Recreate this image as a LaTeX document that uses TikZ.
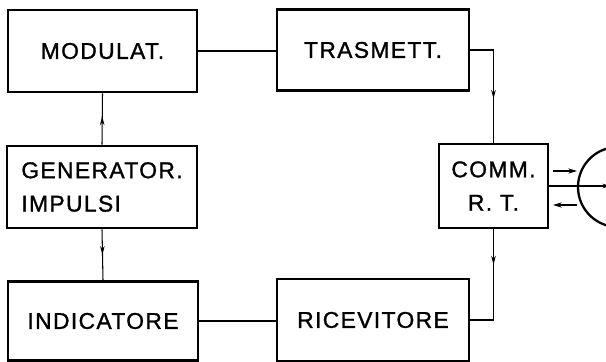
\documentclass[tikz,border=0pt]{standalone}
\usepackage{fontspec}
\setmainfont{Liberation Sans}[LetterSpace=6, FakeBold=1.2]
\usetikzlibrary{arrows.meta, decorations.markings}

\tikzset{
    blocco/.style={draw, line width=1.5pt, inner sep=0pt, font=\fontsize{13}{19}\selectfont, align=left},
    filo/.style={line width=0.6pt},
    freccia/.style={filo, decoration={markings, mark=at position #1 with {\arrow{Stealth[length=5pt, width=2.6pt]}}}, postaction={decorate}},
    piccola/.style={filo, -{Stealth[length=5pt, width=3pt]}}
}

\begin{document}
\begin{tikzpicture}[x=0.02cm, y=-0.02cm]

\clip (0,0) rectangle (606,362);
\useasboundingbox (0,0) rectangle (606,362);

% ---- Blocchi ----
\node[blocco, minimum width=3.78cm, minimum height=1.64cm] (mod) at (102.5,51) {MODULAT.};
\node[blocco, minimum width=3.84cm, minimum height=1.62cm] (tras) at (373,50) {TRASMETT.};
\node[blocco, minimum width=3.8cm, minimum height=1.64cm] (gen) at (102,187) {GENERATOR.\\IMPULSI};
\node[blocco, minimum width=3.8cm, minimum height=1.58cm] (ind) at (103,321) {INDICATORE};
\node[blocco, minimum width=3.84cm, minimum height=1.64cm] (ric) at (373,320) {RICEVITORE};
\node[blocco, minimum width=2.18cm, minimum height=1.68cm] (comm) at (493.5,186) {\hfil COMM.\hfil\\\hfil R. T.\hfil};

% ---- Antenna ----
\coordinate (ant) at (618,187);
\draw[line width=1.3pt] (ant) circle[radius=40];

% ---- Collegamenti ----
\draw[filo] (mod.east) -- (mod.east -| tras.west);
\draw[filo] (ind.east) -- (ind.east -| ric.west);
\draw[freccia=0.55] (gen.north) -- (mod.south);
\draw[freccia=0.5] (gen.south) -- (ind.north);
\draw[freccia=0.62] (tras.east) -| (comm.north);
\draw[freccia=0.31] (comm.south) |- (ric.east);
\draw[freccia=0.9] (comm.east) -- (comm.east -| ant);

% ---- Frecce verso l'antenna ----
\coordinate (tx1) at (553,171);
\coordinate (tx2) at (577,171);
\coordinate (rx1) at (577,205);
\coordinate (rx2) at (553,205);
\draw[piccola] (tx1) -- (tx2);
\draw[piccola] (rx1) -- (rx2);

\end{tikzpicture}
\end{document}
